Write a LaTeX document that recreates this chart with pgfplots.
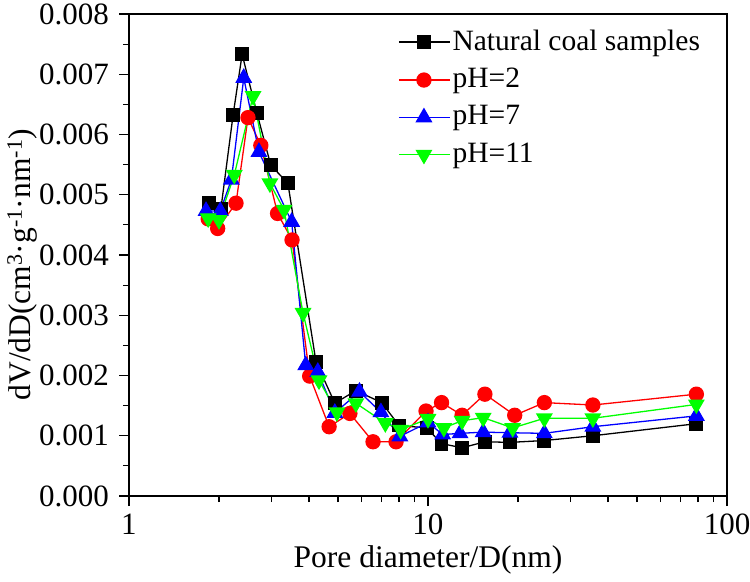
\documentclass[border=0pt]{standalone}
\usepackage{fontspec}
\setmainfont{Liberation Serif}
\usepackage{pgfplots}
\pgfplotsset{compat=1.18}
\begin{document}
\fontsize{29.5bp}{35bp}\selectfont
\begin{tikzpicture}
\begin{axis}[
  scale only axis,
  width=598bp, height=482bp,
  xmode=log,
  xmin=1, xmax=100,
  ymin=0, ymax=0.008,
  xtick={1,10,100}, xticklabels={1,10,100},
  ytick={0,0.001,...,0.008},
  minor y tick num=1,
  scaled y ticks=false,
  yticklabel style={/pgf/number format/.cd, fixed, fixed zerofill, precision=3},
  /pgf/number format/assume math mode=true,
  tick align=outside,
  xtick pos=bottom, ytick pos=left,
  major tick length=10bp, minor tick length=6bp,
  every tick/.style={black, line width=1.2bp},
  axis line style={line width=1.5bp},
  tick label style={font=\fontsize{31bp}{36bp}\selectfont},
  label style={font=\fontsize{31.5bp}{37bp}\selectfont},
  xticklabel style={yshift=2bp, text depth=0pt},
  xlabel={Pore diameter/D(nm)},
  ylabel={dV/dD(cm\textsuperscript{3}·g\textsuperscript{-1}·nm\textsuperscript{-1})},
  xlabel style={at={(axis description cs:0.5,0)}, yshift=-64bp, anchor=center},
  ylabel style={at={(axis description cs:-0.178,0.48)}, anchor=center},
  legend style={draw=none, fill=none, at={(0.45,0.972)}, anchor=north west,
    font=\fontsize{29.5bp}{35bp}\selectfont, row sep=9.5bp, inner sep=0pt,
    legend cell align=left},
  legend image code/.code={\draw[mark repeat=2,mark phase=2,#1] plot coordinates {(0bp,0bp) (25bp,0bp) (51bp,0bp)};},
  every axis plot/.append style={line width=1.3bp},
]
\addplot[black, mark=square*, mark size=6.3bp] coordinates {
(1.85,0.00486) (2.03,0.00477) (2.23,0.00633) (2.39,0.00733) (2.68,0.00635)
(2.98,0.00549) (3.40,0.00519) (4.22,0.00223) (4.88,0.00154) (5.74,0.00175)
(7.0,0.00155) (8.0,0.00117) (9.9,0.00113) (11.1,0.00087) (13.0,0.00080)
(15.5,0.00090) (18.8,0.00089) (24.4,0.00092) (35.6,0.00100) (79,0.00120)};
\addlegendentry{Natural coal samples}
\addplot[red, mark=*, mark size=7bp] coordinates {
(1.84,0.00460) (1.98,0.00444) (2.28,0.00486) (2.50,0.00628) (2.76,0.00582)
(3.14,0.00469) (3.51,0.00425) (4.02,0.00199) (4.67,0.00115) (5.48,0.00137)
(6.55,0.00090) (7.82,0.00090) (9.85,0.00141) (11.1,0.00155) (13.0,0.00134)
(15.5,0.00169) (19.5,0.00134) (24.5,0.00155) (35.6,0.00151) (79,0.00169)};
\addlegendentry{pH=2}
\addplot[blue, mark=triangle*, mark size=8.5bp] coordinates {
(1.81,0.00473) (2.02,0.00473) (2.20,0.00525) (2.42,0.00694) (2.72,0.00571)
(3.50,0.00455) (3.90,0.00217) (4.28,0.00206) (4.88,0.00138) (5.9,0.00173)
(6.96,0.00139) (8.05,0.00099) (10.0,0.00122) (11.2,0.00102) (12.8,0.00104)
(15.3,0.00106) (18.8,0.00105) (24.5,0.00104) (35.6,0.00115) (79,0.00133)};
\addlegendentry{pH=7}
\addplot[green, mark=triangle*, mark size=8.5bp, mark options={rotate=180}] coordinates {
(1.84,0.00461) (2.00,0.00458) (2.25,0.00533) (2.60,0.00664) (2.96,0.00519)
(3.30,0.00475) (3.82,0.00304) (4.32,0.00192) (4.96,0.00139) (5.74,0.00154)
(7.2,0.00121) (8.1,0.00110) (10.0,0.00128) (11.3,0.00113) (13.0,0.00125)
(15.3,0.00130) (19.2,0.00113) (24.5,0.00129) (35.6,0.00129) (79,0.00152)};
\addlegendentry{pH=11}
\end{axis}
\pgfresetboundingbox
\path[use as bounding box] (current axis.south west) ++(-129bp,-86bp) rectangle ++(750bp,582bp);
\end{tikzpicture}
\end{document}
